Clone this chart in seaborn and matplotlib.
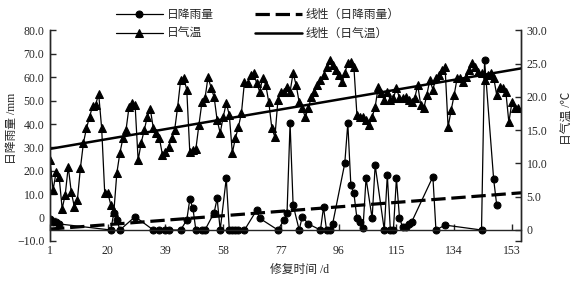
import numpy as np
import pandas as pd
import seaborn as sns
import matplotlib.pyplot as plt
from matplotlib.ticker import FuncFormatter

# daily air temperature (right axis, degC), one value per day
temp_c = [10.5, 6.0, 8.7, 8.0, 3.2, 5.3, 9.5, 5.7, 3.5, 4.5,
          9.3, 13.1, 15.3, 17.0, 18.6, 18.8, 20.5, 15.3, 5.6, 5.6,
          3.8, 2.7, 8.6, 11.6, 13.8, 15.0, 18.5, 19.1, 18.8, 10.5,
          13.1, 15.0, 17.0, 18.2, 15.3, 14.6, 13.8, 11.3, 11.7, 12.5,
          13.8, 15.0, 18.5, 22.6, 22.9, 21.1, 11.7, 12.0, 12.2, 15.8,
          19.2, 19.8, 23.0, 21.4, 20.0, 16.5, 14.6, 17.0, 19.1, 17.3,
          11.6, 13.8, 15.5, 17.6, 22.3, 22.1, 23.3, 23.6, 22.1, 20.8,
          22.9, 21.8, 19.2, 15.3, 14.0, 19.5, 20.8, 20.8, 21.5, 20.8,
          23.6, 21.8, 19.2, 18.3, 17.0, 18.3, 20.0, 20.8, 21.8, 22.6,
          23.3, 24.5, 25.6, 24.8, 24.1, 23.3, 22.3, 23.6, 25.1, 25.3,
          24.5, 17.3, 17.0, 17.0, 16.5, 15.8, 17.0, 18.5, 21.5, 20.6,
          19.5, 20.8, 19.5, 19.8, 21.4, 19.8, 19.8, 20.0, 19.5, 19.2,
          19.8, 21.8, 18.8, 18.3, 20.3, 22.6, 21.1, 22.9, 23.3, 24.1,
          24.5, 15.5, 18.0, 20.3, 22.9, 22.9, 22.3, 23.0, 24.1, 25.1,
          24.5, 23.8, 23.6, 22.6, 23.3, 23.6, 22.9, 20.3, 21.5, 21.4,
          20.8, 16.2, 19.2, 18.3, 18.3]

# daily rainfall (left axis, mm), days with a plotted point only
rain_days = [1, 2, 3, 4, 21, 22, 23, 24, 29, 35, 37, 39, 40, 44, 46, 47, 48, 49,
             51, 52, 55, 56, 57, 59, 60, 61, 62, 63, 65, 69, 70, 76, 78, 79, 80,
             81, 83, 84, 86, 90, 91, 92, 93, 94, 98, 99, 100, 101, 102, 103, 104,
             105, 107, 108, 111, 112, 113, 114, 115, 116, 117, 118, 119, 120,
             127, 128, 131, 143, 144, 147, 148]
rain_mm = [-0.4, -1.8, -2.0, -2.7, -5.3, 2.1, -1.0, -5.3, 0.4, -5.3, -5.3, -5.3,
           -5.3, -5.3, -1.0, 7.8, 4.2, -5.3, -5.3, -5.3, 2.1, 8.2, -5.3, 16.8,
           -5.3, -5.3, -5.3, -5.3, -5.3, 3.2, -0.3, -5.3, -1.0, 2.0, 40.3, 5.4,
           -5.3, 0.4, -2.7, -5.3, 4.4, -5.3, -5.3, -2.7, 23.2, 40.3, 13.9, 10.4,
           -0.3, -1.7, -4.5, 16.8, -0.3, 22.4, -5.3, 18.2, -5.3, -5.3, 16.8, 0.0,
           -4.0, -4.2, -2.7, -1.9, 17.5, -5.3, -3.2, -5.3, 67.2, 16.3, 5.4]

# linear trend lines (start / end of the x range)
trend_days = [1, 156]
temp_trend = [12.2, 24.3]
rain_trend = [-4.9, 10.6]

x_ticks = [1, 20, 39, 58, 77, 96, 115, 134, 153]
rain_ticks = [-10, 0, 10, 20, 30, 40, 50, 60, 70, 80]
temp_ticks = [0, 5, 10, 15, 20, 25, 30]

sns.set_style("ticks")
plt.rcParams['font.family'] = ['Liberation Serif', 'Noto Sans CJK SC']
plt.rcParams['font.size'] = 8.5

fig = plt.figure(figsize=(5.87, 2.85), dpi=100)
ax = fig.add_axes([0.0852, 0.1544, 0.8024, 0.7386])
ax2 = ax.twinx()

df_t = pd.DataFrame({'day': np.arange(1, len(temp_c) + 1), 'temp': temp_c})
df_r = pd.DataFrame({'day': rain_days, 'rain': rain_mm})

# rainfall on the left axis
sns.lineplot(data=df_r, x='day', y='rain', ax=ax, color='black', lw=0.9,
             marker='o', markersize=5, mec='black', mfc='black', label='日降雨量', legend=False)
sns.lineplot(x=trend_days, y=rain_trend, ax=ax, color='black', lw=2.3,
             linestyle=(0, (4.5, 1.8)), label='线性（日降雨量）', legend=False)

# temperature on the right axis
sns.lineplot(data=df_t, x='day', y='temp', ax=ax2, color='black', lw=0.9,
             marker='^', markersize=6, mec='black', mfc='black', label='日气温', legend=False)
sns.lineplot(x=trend_days, y=temp_trend, ax=ax2, color='black', lw=1.8,
             label='线性（日气温）', legend=False)

t_lo = -1.654
ax.set_xlim(1, 156)
ax.set_ylim(-10, 80)
ax2.set_ylim(t_lo, 30)
zero_left = -10 + (0 - t_lo) / (30 - t_lo) * 90


def fmt(v, pos):
    if abs(v) < 1e-9:
        return '0'
    return f'{v:.1f}'.replace('-', '\u2212')


ax.set_yticks(rain_ticks)
ax.yaxis.set_major_formatter(FuncFormatter(fmt))
ax2.set_yticks(temp_ticks)
ax2.yaxis.set_major_formatter(FuncFormatter(fmt))
ax2.set_yticks([t_lo], minor=True)
ax.set_xticks(x_ticks)
ax.set_xticklabels([str(t) for t in x_ticks])

ax.spines['top'].set_visible(False)
ax2.spines['top'].set_visible(False)
ax2.spines['bottom'].set_visible(False)
ax.spines['bottom'].set_position(('data', zero_left))
for sp in ax.spines.values():
    sp.set_linewidth(1.0)
for sp in ax2.spines.values():
    sp.set_linewidth(1.0)

ax.tick_params(axis='y', direction='in', length=4, width=1, pad=4, labelsize=8.5)
ax.tick_params(axis='x', direction='in', length=4, width=1, pad=11, labelsize=8.5)
ax2.tick_params(axis='y', which='both', direction='in', length=4, width=1, pad=4, labelsize=8.5)

ax.set_xlabel('')
ax.set_ylabel('')
ax2.set_ylabel('')

fig.text(12 / 587, 1 - 128 / 285, '日降雨量 /mm', rotation=90, ha='center', va='center', fontsize=8.5)
fig.text(568 / 587, 1 - 118 / 285, '日气温 /℃', rotation=90, ha='center', va='center', fontsize=8.5)
fig.text(300 / 587, 1 - 270 / 285, '修复时间 /d', ha='center', va='center', fontsize=8.5)

h1, l1 = ax.get_legend_handles_labels()
h2, l2 = ax2.get_legend_handles_labels()
handles = [h1[0], h2[0], h1[1], h2[1]]
labels = [l1[0], l2[0], l1[1], l2[1]]
fig.legend(handles, labels, ncol=2, loc='upper left', bbox_to_anchor=(0.185, 0.993),
           frameon=False, handlelength=4.0, handletextpad=0.3, columnspacing=3.5,
           labelspacing=0.6, fontsize=8.5, borderaxespad=0.2)

fig.savefig('out.png', dpi=100)
